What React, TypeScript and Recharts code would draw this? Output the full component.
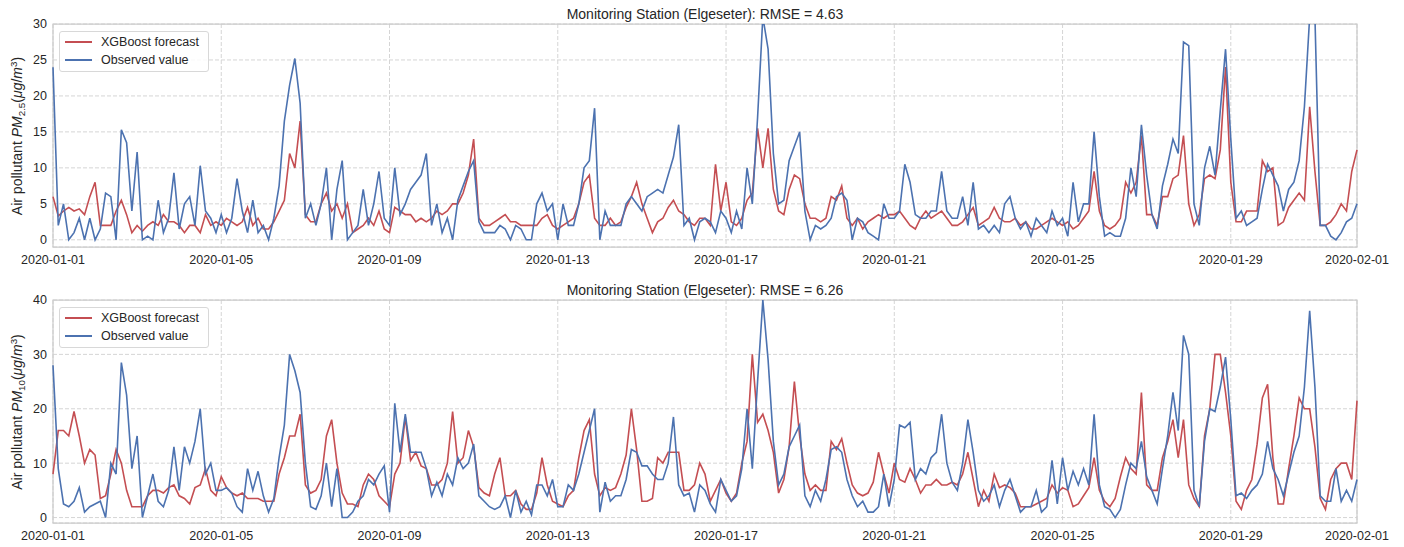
import React from "react"
import { LineChart, Line, XAxis, YAxis, CartesianGrid, ReferenceArea } from "recharts"

// hours since 2020-01-01 00:00, every 4 days
const tickHours = [0, 96, 192, 288, 384, 480, 576, 672, 744]
const tickLabels = [
  "2020-01-01",
  "2020-01-05",
  "2020-01-09",
  "2020-01-13",
  "2020-01-17",
  "2020-01-21",
  "2020-01-25",
  "2020-01-29",
  "2020-02-01",
]

// readings every 3 hours (8 per day), last value is 2020-02-01 00:00
const pm25Forecast = [
  6, 3.3, 4, 4.5, 4, 4.3, 3.5, 6,
  8, 2, 2, 2, 4, 5.5, 3.5, 1,
  2, 1.2, 2, 2.5, 2, 3.5, 2.5, 2.5,
  2, 1, 2, 2, 1, 3.5, 2, 2.5,
  2, 3, 2.5, 2, 2.5, 4.5, 2, 3,
  1.5, 1.5, 2.5, 4, 5.5, 12, 10, 16.5,
  3.5, 2.5, 2.5, 5, 6.5, 4, 5, 3,
  5, 1, 1.5, 2, 3, 2, 4, 1.5,
  1, 4.5, 4, 3.5, 3.5, 2.5, 3, 2.5,
  3, 4, 3.5, 4, 5, 5, 6.5, 9,
  14, 3, 2, 2, 2.5, 3, 3.5, 2.5,
  2.5, 2, 2, 2, 2, 3, 3.5, 2,
  1.5, 2, 2.5, 3, 5, 8, 9, 3,
  2, 2, 3, 2, 2.5, 4.5, 6, 8,
  5, 3, 1, 2.5, 3, 4.5, 5.5, 4,
  3.5, 2.5, 2, 3, 3, 2, 10.5, 4,
  8, 2.5, 2, 3, 5.5, 6.5, 15.5, 10,
  15.5, 7, 4, 3.5, 7, 9, 8.5, 5,
  3, 3, 2.5, 3, 6, 5.5, 7.5, 3,
  2, 3, 1.5, 2.5, 3, 3.5, 3, 3.5,
  3.5, 4, 3, 2, 1.5, 3, 4, 3,
  3.5, 4, 3, 2, 2, 2.5, 3.5, 4.5,
  2, 2.5, 3, 4.5, 3, 2.5, 2.5, 3,
  2, 2.5, 1.5, 1.5, 2, 2.5, 3, 2.5,
  2, 2.5, 1.5, 2, 3, 4, 9.5, 4,
  2, 1.5, 2, 3, 8, 6.5, 8, 14.5,
  3.5, 3.5, 2, 6, 6, 8.5, 9, 14.5,
  5, 2, 3.5, 8.5, 9, 8.5, 12.5, 24,
  8, 2.5, 2.5, 4, 4, 4, 11, 9.5,
  10, 2, 2.5, 4.5, 5.5, 6.5, 5.5, 18.5,
  9.5, 2, 2, 2.5, 3.5, 5, 4, 9.5,
  12.5,
]

const pm25Observed = [
  24, 2, 5, 0, 1, 3, 0, 3,
  0, 1.5, 6.5, 6, 0, 15.3, 13.5, 4,
  12.2, 0, 0.5, 0, 5.5, 1, 3, 9.3,
  1.5, 5, 6, 2, 10.3, 4, 3, 1,
  3.5, 1, 3, 8.5, 4, 1, 5.5, 1,
  2, 0, 3, 7.5, 16.5, 21.5, 25.2, 19,
  3, 5, 2, 5, 10, 0, 7, 11,
  0, 1, 2, 7, 2, 5, 9.5, 3,
  2, 10, 3.5, 5, 7, 8, 9, 12,
  2, 5, 1, 3, 0, 5.5, 7.5, 9.5,
  11, 2.5, 1, 1, 1, 2, 1.5, 0,
  2, 1.5, 0, 0, 5, 6.5, 4, 5,
  0, 5, 2, 2, 5, 10, 11, 18.3,
  0, 4, 2, 2, 2, 5, 6, 5,
  4, 6, 6.5, 7, 6.5, 9, 11.5, 16,
  2, 3, 0, 2.5, 3, 2.5, 1, 4,
  3, 1, 4, 1.5, 10, 5, 17, 31,
  26.5, 12, 5, 5.5, 11, 13, 15, 4,
  0, 2, 1.5, 2, 3, 6, 6.5, 5.5,
  0, 3, 2.5, 1, 0.5, 0, 5, 3,
  3, 4, 10.5, 8, 3.5, 3, 3, 4,
  4, 9.5, 4, 3, 3, 6, 2, 8,
  1.5, 2, 1, 2, 1, 5, 6, 3,
  1.5, 2.5, 0.5, 3, 2, 1, 4, 2,
  3, 0.5, 8, 2.5, 5, 5, 15, 6,
  0.5, 1, 0.5, 0.5, 3, 10, 6, 16,
  9, 3.5, 1.5, 7.5, 10.5, 14, 12, 27.5,
  27, 5, 2, 10, 13, 9, 18, 26.5,
  14, 3, 4, 2, 2.5, 3, 7, 10.5,
  9, 7.5, 4, 7, 8, 11, 18.5, 31,
  31, 2, 2, 0.5, 0, 1, 2.5, 3,
  5,
]

const pm10Forecast = [
  8, 16, 16, 15, 19.5, 15, 10, 12.5,
  11.5, 3.5, 4, 8, 12.5, 10, 5, 2,
  2, 2, 4, 5, 5, 4.5, 5.5, 6,
  4, 3.5, 2.5, 5.5, 6, 9, 5, 4,
  7.5, 5.5, 4.5, 4, 4.5, 3.5, 3.5, 3.5,
  3, 3, 3, 8, 11, 15, 15, 19,
  6, 4.5, 5, 7, 15, 18, 10, 4.5,
  2.5, 2.5, 2, 6, 8, 7, 4, 3,
  2, 8, 10, 18.5, 10.5, 12, 9.5, 9,
  6, 6, 7, 10, 19.5, 10, 11, 16,
  13, 5.5, 4.5, 4, 8, 11, 4, 4,
  5, 2.5, 1.5, 1.5, 4.5, 11, 6, 3,
  2.5, 2, 4, 5, 11, 16, 18, 8,
  4, 5.5, 5, 5.5, 8, 11.5, 20, 12.5,
  3, 3, 3.5, 11, 10, 12, 12, 12,
  5, 5, 6, 10, 8, 3, 5, 7,
  4.5, 3, 4.5, 10, 14, 30, 17.5, 19,
  16, 12, 4.5, 7, 13, 25, 15, 8,
  5, 6, 5, 5, 14, 12.5, 14.5, 10,
  6, 4.5, 4, 4.5, 6.5, 12, 8, 4.5,
  10, 7, 6.5, 9, 7, 4.5, 6, 6,
  7, 6, 6, 6.5, 6, 8, 12, 7,
  2, 5, 3, 8, 5.5, 6, 5.5, 4.5,
  2, 2, 2, 2.5, 3, 3.5, 6, 4.5,
  5.5, 5, 2, 2.5, 4, 5.5, 11, 5,
  3, 2, 3.5, 7.5, 11, 9, 8, 23,
  6, 5, 5, 11, 14, 18, 11, 18,
  6, 3.5, 2, 15, 20, 30, 30, 23,
  15, 3, 1.5, 5, 7, 13.5, 22, 24.5,
  11, 2.5, 2.5, 9, 15, 22, 20, 20,
  13, 3.5, 1.5, 7, 9, 10, 10, 7,
  21.5,
]

const pm10Observed = [
  28, 9, 2.5, 2, 3, 5.5, 1, 2,
  2.5, 3, 0, 10, 8, 28.5, 22.5, 9,
  15, 0, 4, 8, 3, 2, 5, 13,
  5, 13, 10, 14, 20, 8, 10, 5,
  5, 5.5, 4.5, 2, 1, 9, 5, 8.5,
  4, 1, 3.5, 11, 17, 30, 27, 23,
  10, 2, 1.5, 4, 10, 2, 9, 0,
  0, 1, 3, 4, 7, 6, 8, 9.5,
  1, 21, 12, 19, 12, 12, 12, 9,
  4, 6.5, 4, 8, 6, 11, 9, 10,
  13.5, 4, 3, 2, 1.5, 2, 4, 0,
  5, 1, 3, 0.5, 6, 6, 4, 7,
  2, 2, 6, 5, 8, 12, 16, 20,
  1, 6.5, 3, 4, 4, 7, 12.5, 12,
  9.5, 9.5, 8, 7, 7, 10, 18.5, 6,
  4, 4.5, 1, 6, 5, 2.5, 1, 7,
  5, 3, 4, 9, 20, 9, 25, 40,
  29, 14, 6, 8, 13, 15, 17, 4,
  2, 5, 3, 7, 12.5, 13, 12, 7,
  4, 2, 3, 1, 1, 2, 8, 2,
  7, 17, 16.5, 17.5, 7, 9, 8, 11,
  12, 19, 10, 6.5, 5, 10, 18, 12,
  5, 3, 4, 6, 2, 5, 7, 4,
  1, 2, 2, 5, 1, 2, 10.5, 2.5,
  11, 5, 8.5, 6, 9, 6, 19, 6,
  2, 1.5, 0, 1.5, 6, 10, 9, 14,
  7.5, 5, 2.5, 9, 15, 23, 16, 33.5,
  30, 5, 2, 14, 20, 19.5, 24, 29.5,
  18, 4, 4.5, 3.5, 5, 6, 8, 14,
  9, 7, 4, 8, 12, 15, 24, 38,
  24, 4, 3, 3, 9, 3, 5, 3,
  7,
]

const pm25Ticks = [0, 5, 10, 15, 20, 25, 30]
const pm10Ticks = [0, 10, 20, 30, 40]

const RED = "#c44e52"
const BLUE = "#4c72b0"
const TEXT = "#262626"
const FONT = "'Liberation Sans', Arial, sans-serif"

function Panel({
  top,
  forecast,
  observed,
  yMax,
  yTicks,
  sub,
  rmse,
}: {
  top: number
  forecast: number[]
  observed: number[]
  yMax: number
  yTicks: number[]
  sub: string
  rmse: string
}) {
  const data = forecast.map((f, i) => ({ t: i * 3, forecast: f, observed: observed[i] }))

  return (
    <div style={{ position: "absolute", left: 0, top, width: 1404, height: 271 }}>
      <div
        style={{
          position: "absolute",
          left: 53,
          width: 1304,
          top: 5,
          textAlign: "center",
          fontSize: 14,
          lineHeight: "18px",
          color: TEXT,
        }}
      >
        Monitoring Station (Elgeseter): RMSE = {rmse}
      </div>
      <LineChart
        width={1404}
        height={271}
        data={data}
        margin={{ top: 24, right: 47, bottom: 4, left: 8 }}
      >
        <CartesianGrid stroke="#d5d5d5" strokeDasharray="4 2" />
        <XAxis
          dataKey="t"
          type="number"
          domain={[0, 744]}
          ticks={tickHours}
          interval={0}
          tickFormatter={(v: number) => tickLabels[tickHours.indexOf(v)]}
          tickLine={false}
          axisLine={false}
          height={20}
          tick={{ fontSize: 12.5, fill: TEXT, fontFamily: FONT }}
        />
        <YAxis
          type="number"
          domain={[-1, yMax]}
          ticks={yTicks}
          allowDataOverflow
          tickLine={false}
          axisLine={false}
          width={45}
          tickSize={0}
          tickMargin={6}
          tick={{ fontSize: 12.5, fill: TEXT, fontFamily: FONT }}
        />
        <ReferenceArea
          x1={0}
          x2={744}
          y1={-1}
          y2={yMax}
          fill="none"
          stroke="#cccccc"
          strokeWidth={1.25}
          ifOverflow="visible"
        />
        <Line
          dataKey="forecast"
          type="linear"
          stroke={RED}
          strokeWidth={1.6}
          dot={false}
          isAnimationActive={false}
        />
        <Line
          dataKey="observed"
          type="linear"
          stroke={BLUE}
          strokeWidth={1.6}
          dot={false}
          isAnimationActive={false}
        />
      </LineChart>

      {/* legend box */}
      <div
        style={{
          position: "absolute",
          left: 59,
          top: 31,
          width: 148,
          height: 39,
          border: "1px solid #d8d8d8",
          borderRadius: 3,
          background: "rgba(255,255,255,0.85)",
          fontSize: 12.5,
          color: TEXT,
        }}
      >
        {[
          { name: "XGBoost forecast", color: RED },
          { name: "Observed value", color: BLUE },
        ].map((item, k) => (
          <div
            key={item.name}
            style={{ position: "absolute", left: 0, top: 2 + k * 18, height: 16, width: 148 }}
          >
            <div
              style={{
                position: "absolute",
                left: 5,
                top: 7,
                width: 27,
                height: 1.6,
                background: item.color,
              }}
            />
            <div style={{ position: "absolute", left: 41, top: 0, lineHeight: "16px", whiteSpace: "nowrap" }}>
              {item.name}
            </div>
          </div>
        ))}
      </div>

      {/* y label */}
      <div
        style={{
          position: "absolute",
          left: 17,
          top: 136,
          transform: "translate(-50%, -50%) rotate(-90deg)",
          whiteSpace: "nowrap",
          fontSize: 14,
          lineHeight: 1,
          color: TEXT,
        }}
      >
        Air pollutant <i>PM</i>
        <span style={{ fontSize: "0.7em", position: "relative", top: "0.3em" }}>{sub}</span>(
        <i>μg</i>/<i>m</i>
        <span style={{ fontSize: "0.7em", position: "relative", top: "-0.5em" }}>3</span>)
      </div>
    </div>
  )
}

export default function App() {
  return (
    <div
      style={{
        position: "absolute",
        left: 0,
        top: 0,
        width: 1404,
        height: 547,
        background: "#ffffff",
        fontFamily: FONT,
        overflow: "hidden",
      }}
    >
      <Panel
        top={0}
        forecast={pm25Forecast}
        observed={pm25Observed}
        yMax={30}
        yTicks={pm25Ticks}
        sub="2.5"
        rmse="4.63"
      />
      <Panel
        top={276}
        forecast={pm10Forecast}
        observed={pm10Observed}
        yMax={40}
        yTicks={pm10Ticks}
        sub="10"
        rmse="6.26"
      />
    </div>
  )
}
